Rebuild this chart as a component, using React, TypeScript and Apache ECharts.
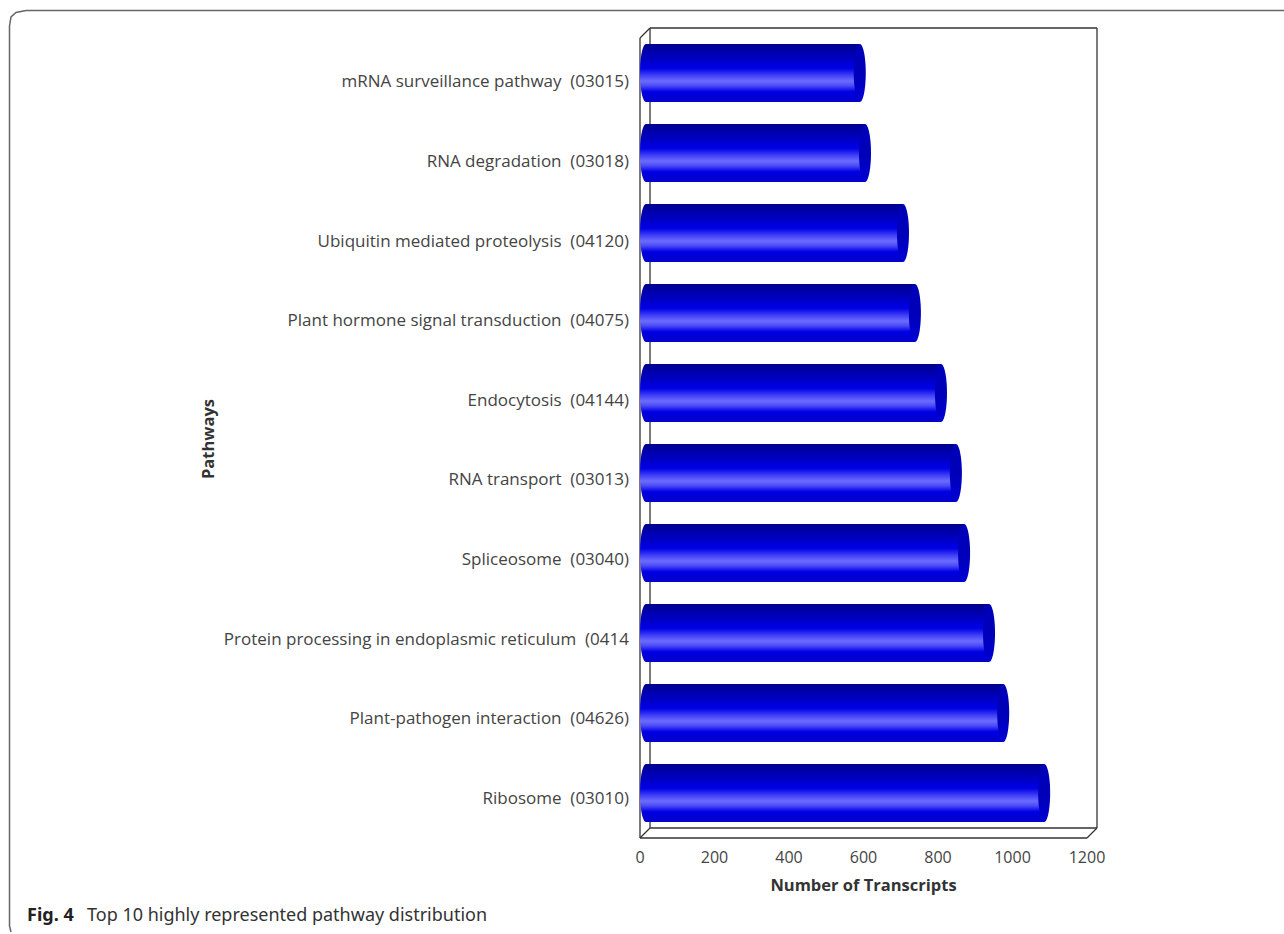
import React, { useEffect, useRef } from "react";
import * as echarts from "echarts";

const categories = [
  "mRNA surveillance pathway  (03015)",
  "RNA degradation  (03018)",
  "Ubiquitin mediated proteolysis  (04120)",
  "Plant hormone signal transduction  (04075)",
  "Endocytosis  (04144)",
  "RNA transport  (03013)",
  "Spliceosome  (03040)",
  "Protein processing in endoplasmic reticulum  (0414",
  "Plant-pathogen interaction  (04626)",
  "Ribosome  (03010)",
];
const transcripts = [590, 604, 706, 738, 808, 848, 870, 937, 975, 1085];
const xTicks = { min: 0, max: 1200, interval: 200 };
const yAxisTitle = "Pathways";
const xAxisTitle = "Number of Transcripts";
const captionLabel = "Fig. 4";
const captionText = "Top 10 highly represented pathway distribution";

const FONT = "'Open Sans', 'Noto Sans', sans-serif";
const bodyGrad = () =>
  new echarts.graphic.LinearGradient(0, 0, 0, 1, [
    { offset: 0, color: "#00008c" },
    { offset: 0.12, color: "#0000a8" },
    { offset: 0.42, color: "#0000e6" },
    { offset: 0.55, color: "#4444f8" },
    { offset: 0.64, color: "#6c6cff" },
    { offset: 0.72, color: "#4a4af8" },
    { offset: 0.82, color: "#0000e4" },
    { offset: 1, color: "#0000c8" },
  ]);
const capGrad = () =>
  new echarts.graphic.LinearGradient(0, 0, 0, 1, [
    { offset: 0, color: "#0000b8" },
    { offset: 0.5, color: "#0000b8" },
    { offset: 1, color: "#0000d4" },
  ]);

function renderBar(_: any, api: any) {
  const end = api.coord([api.value(0), api.value(1)]);
  const start = api.coord([0, api.value(1)]);
  const h = 58;
  const rx = 6;
  const top = end[1] - h / 2;
  const cy = end[1];
  const x0 = start[0] + rx;
  return {
    type: "group",
    children: [
      { type: "ellipse", shape: { cx: x0, cy, rx, ry: h / 2 }, style: { fill: bodyGrad() } },
      { type: "rect", shape: { x: x0, y: top, width: end[0] - x0, height: h }, style: { fill: bodyGrad() } },
      { type: "ellipse", shape: { cx: end[0], cy, rx, ry: h / 2 }, style: { fill: capGrad() } },
    ],
  };
}

const line = (x1: number, y1: number, x2: number, y2: number) => ({
  type: "line",
  z: 0,
  shape: { x1, y1, x2, y2 },
  style: { stroke: "#333", lineWidth: 1.3 },
});

export default function App() {
  const ref = useRef<HTMLDivElement>(null);
  useEffect(() => {
    const chart = echarts.init(ref.current!, null, { renderer: "svg" });
    chart.setOption({
      animation: false,
      backgroundColor: "#fff",
      grid: [
        { left: 640, right: 197, top: 33, height: 800, containLabel: false },
        { left: 640, right: 197, top: 41, height: 796, containLabel: false },
      ],
      xAxis: [
        {
          type: "value",
          gridIndex: 0,
          min: xTicks.min,
          max: xTicks.max,
          interval: xTicks.interval,
          axisLine: { show: false },
          axisTick: { show: false },
          splitLine: { show: false },
          axisLabel: {
            color: "#444",
            fontFamily: FONT,
            fontSize: 16,
            margin: 16,
            formatter: (v: number) => String(v),
          },
          name: xAxisTitle,
          nameLocation: "middle",
          nameGap: 43,
          nameTextStyle: { color: "#333", fontFamily: FONT, fontSize: 16.5, fontWeight: "bold" },
        },
        {
          type: "value",
          gridIndex: 1,
          min: xTicks.min,
          max: xTicks.max,
          interval: xTicks.interval,
          show: false,
        },
      ],
      yAxis: [
        {
          type: "category",
          gridIndex: 0,
          inverse: true,
          data: categories,
          axisLine: { show: false },
          axisTick: { show: false },
          axisLabel: { show: false },
        },
        {
          type: "category",
          gridIndex: 1,
          inverse: true,
          data: categories,
          axisLine: { show: false },
          axisTick: { show: false },
          axisLabel: {
            color: "#444",
            fontFamily: FONT,
            fontSize: 17,
            margin: 11,
            interval: 0,
          },
        },
      ],
      series: [
        {
          type: "custom",
          xAxisIndex: 0,
          yAxisIndex: 0,
          renderItem: renderBar,
          encode: { x: 0, y: 1 },
          z: 5,
          data: transcripts.map((v, i) => [v, i]),
        },
      ],
      graphic: [
        line(640, 38, 640, 838),
        line(640, 838, 1087, 838),
        line(650, 28, 650, 828),
        line(650, 28, 1097, 28),
        line(1097, 28, 1097, 828),
        line(650, 828, 1097, 828),
        line(640, 38, 650, 28),
        line(640, 838, 650, 828),
        line(1087, 838, 1097, 828),
        {
          type: "polyline",
          z: 0,
          shape: { points: [[1284, 10.5], [26, 10.5], [16, 12.5], [11, 17], [9.5, 26], [9.5, 926], [11, 932]] },
          style: { stroke: "#666", lineWidth: 1.5, fill: "none" },
        },
        {
          type: "text",
          x: 207,
          y: 439,
          rotation: Math.PI / 2,
          style: {
            text: yAxisTitle,
            font: "bold 16.5px 'Open Sans', sans-serif",
            fill: "#333",
            textAlign: "center",
            textVerticalAlign: "middle",
          },
        },
        {
          type: "text",
          x: 27,
          y: 905,
          style: { text: captionLabel, font: "bold 18px 'Noto Sans', sans-serif", fill: "#222" },
        },
        {
          type: "text",
          x: 87,
          y: 905,
          style: { text: captionText, font: "18px 'Noto Sans', sans-serif", fill: "#333" },
        },
      ],
    });
    return () => chart.dispose();
  }, []);
  return <div ref={ref} style={{ position: "fixed", left: 0, top: 0, width: 1284, height: 934 }} />;
}
